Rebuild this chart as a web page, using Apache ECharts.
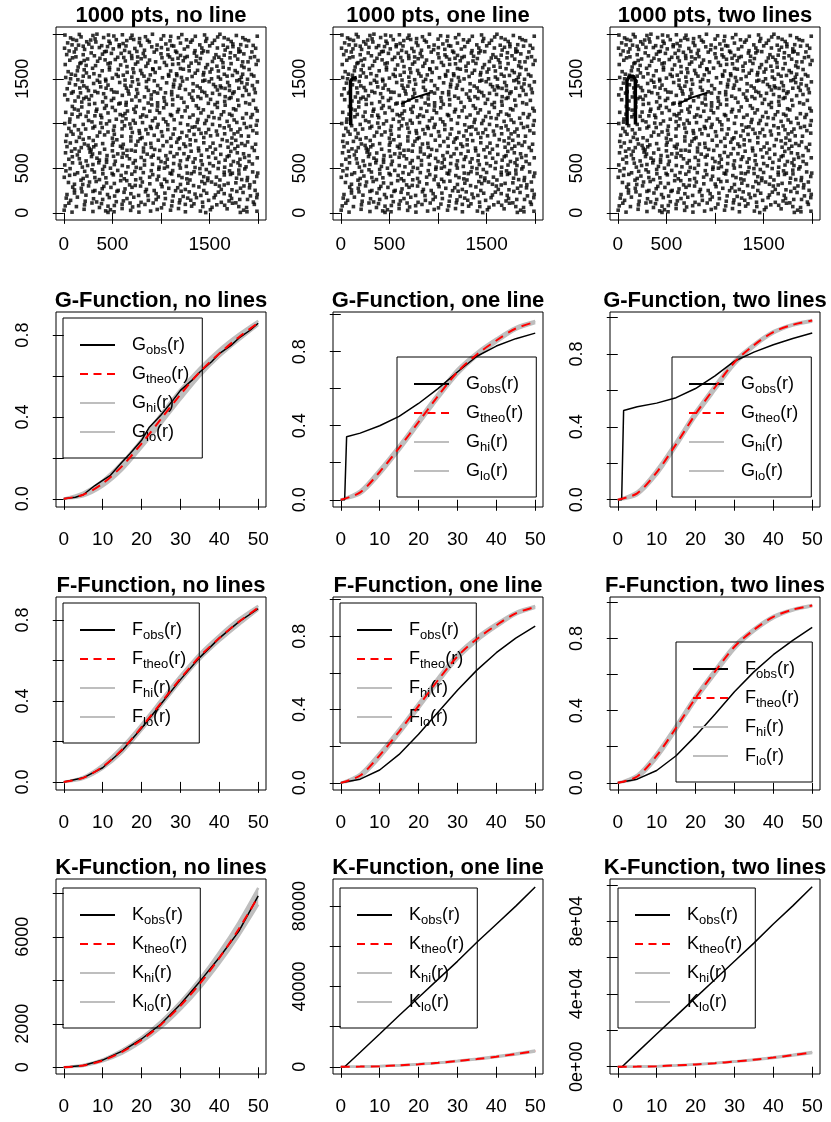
<!DOCTYPE html>
<html>
<head>
<meta charset="utf-8">
<script src="https://cdn.jsdelivr.net/npm/echarts@6/dist/echarts.min.js"></script>
<style>
html, body { margin: 0; padding: 0; background: #fff; }
#chart { width: 831px; height: 1122px; }
</style>
</head>
<body>
<div id="chart"></div>
<script>
// ---- data ----
var titles = ['1000 pts, no line', '1000 pts, one line', '1000 pts, two lines',
    'G-Function, no lines', 'G-Function, one line', 'G-Function, two lines',
    'F-Function, no lines', 'F-Function, one line', 'F-Function, two lines',
    'K-Function, no lines', 'K-Function, one line', 'K-Function, two lines'];

// background points (same in the three scatter panels), estimated band by band from the top
var basePtsA = [
    [12,1990],[70,1958],[95,1941],[160,1997],[178,1969],[300,1985],[322,1947],[341,2000],[410,1962],[515,1979],[540,1938],[603,1993],[688,1955],[702,1988],[719,1940],[840,1971],[912,1999],[1001,1944],[1027,1982],[1180,1960],[1214,1995],[1262,1937],[1353,1976],[1448,1991],[1470,1951],[1583,1968],[1606,1999],[1690,1942],[1775,1985],[1841,1960],[1866,1938],[1990,1977],
    [40,1902],[131,1930],[152,1877],[236,1915],[258,1889],[277,1934],[390,1871],[465,1921],[477,1897],[571,1881],[648,1928],[777,1905],[793,1873],[861,1932],[880,1913],[1050,1890],[1093,1925],[1110,1872],[1305,1910],[1322,1934],[1399,1880],[1528,1899],[1551,1931],[1640,1876],[1722,1918],[1739,1890],[1901,1927],[1948,1874],
    [8,1843],[55,1812],[200,1865],[214,1829],[366,1850],[437,1808],[450,1861],[509,1835],[626,1818],[640,1868],[731,1840],[752,1806],[905,1858],[955,1826],[1004,1849],[1131,1867],[1150,1810],[1240,1833],[1275,1860],[1420,1845],[1437,1812],[1501,1869],[1660,1822],[1684,1853],[1800,1835],[1815,1807],[1880,1866],[1974,1842],
    [30,1771],[108,1800],[125,1746],[282,1790],[315,1758],[398,1776],[420,1803],[555,1741],[590,1785],[675,1797],[698,1760],[818,1783],[835,1748],[930,1799],[1072,1768],[1088,1745],[1162,1795],[1201,1762],[1343,1788],[1366,1752],[1481,1804],[1565,1770],[1595,1742],[1714,1792],[1761,1758],[1852,1779],[1935,1801],[1962,1748],
    [62,1708],[90,1735],[178,1681],[245,1722],[348,1697],[372,1730],[478,1678],[530,1716],[617,1739],[633,1700],[760,1688],[796,1725],[882,1710],[1010,1736],[1035,1683],[1118,1719],[1229,1702],[1246,1738],[1310,1676],[1405,1727],[1529,1694],[1548,1733],[1622,1712],[1637,1680],[1789,1720],[1895,1690],[1920,1737],[1998,1705],
    [15,1660],[148,1632],[166,1671],[296,1618],[327,1648],[455,1669],[470,1629],[585,1655],[712,1612],[738,1665],[845,1640],[864,1674],[985,1620],[1056,1651],[1180,1668],[1200,1615],[1287,1640],[1390,1672],[1460,1625],[1478,1659],[1575,1641],[1700,1613],[1721,1670],[1830,1645],[1854,1627],[1979,1661],
    [45,1580],[78,1552],[210,1601],[233,1566],[395,1590],[540,1549],[560,1606],[652,1573],[790,1594],[803,1558],[918,1604],[940,1571],[1077,1547],[1099,1588],[1230,1608],[1352,1563],[1376,1595],[1505,1576],[1522,1609],[1651,1551],[1763,1592],[1785,1570],[1906,1604],[1930,1548],
    [20,1515],[120,1540],[145,1490],[262,1521],[345,1483],[368,1535],[500,1508],[612,1541],[630,1486],[700,1519],[825,1530],[873,1494],[890,1544],[1015,1512],[1140,1486],[1163,1537],[1268,1499],[1320,1526],[1435,1543],[1451,1484],[1590,1520],[1612,1497],[1735,1538],[1808,1489],[1826,1517],[1955,1531],
    [58,1452],[190,1470],[206,1421],[307,1448],[432,1476],[455,1430],[575,1459],[690,1418],[706,1467],[770,1440],[931,1478],[966,1425],[1058,1455],[1200,1430],[1222,1474],[1330,1445],[1372,1419],[1495,1468],[1540,1437],[1686,1460],[1703,1422],[1780,1479],[1885,1443],[1991,1466],
    [35,1389],[97,1356],[238,1402],[254,1368],[380,1410],[490,1378],[515,1352],[645,1395],[662,1363],[850,1405],[870,1371],[995,1388],[1110,1357],[1128,1410],[1251,1380],[1403,1398],[1420,1360],[1561,1412],[1580,1375],[1659,1393],[1752,1354],[1860,1405],[1877,1370],[1960,1386],
    [10,1320],[150,1297],[172,1343],[285,1311],[410,1333],[430,1290],[548,1349],[602,1315],[742,1300],[760,1338],[900,1320],[1030,1289],[1046,1344],[1172,1305],[1293,1330],[1316,1292],[1450,1347],[1470,1310],[1602,1325],[1720,1290],[1738,1336],[1840,1312],[1970,1345],
    [40,1266],[185,1240],[205,1279],[318,1224],[490,1258],[513,1281],[642,1236],[700,1262],[868,1229],[899,1275],[1036,1250],[1210,1284],[1236,1237],[1330,1261],[1487,1226],[1510,1270],[1655,1247],[1702,1280],[1871,1233],[1950,1259],
    [88,1191],[110,1162],[262,1214],[420,1170],[437,1200],[566,1219],[720,1161],[745,1190],[905,1208],[1028,1176],[1055,1215],[1180,1158],[1363,1199],[1385,1170],[1555,1212],[1580,1180],[1746,1165],[1800,1201],[1911,1218],
    [20,1125],[148,1150],[170,1102],[333,1137],[380,1093],[530,1146],[630,1111],[655,1140],[812,1096],[960,1149],[985,1120],[1097,1100],[1248,1142],[1411,1118],[1436,1153],[1620,1098],[1645,1131],[1770,1152],[1878,1110],[1990,1140],
    [63,1050],[230,1080],[255,1034],[390,1066],[470,1028],[608,1087],[640,1052],[790,1072],[912,1031],[940,1060],[1110,1088],[1135,1042],[1295,1069],[1466,1034],[1490,1078],[1600,1055],[1730,1090],[1752,1040],[1925,1068],
    [10,1000],[112,976],[290,1018],[318,968],[440,996],[600,1021],[625,975],[735,1004],[890,966],[1050,1019],[1070,985],[1200,1002],[1350,963],[1372,1012],[1530,990],[1680,1024],[1700,972],[1856,1000],[1980,981],
    [52,945],[75,910],[225,938],[370,902],[395,955],[512,925],[690,948],[705,900],[845,931],[960,957],[1005,908],[1140,940],[1290,918],[1320,958],[1462,896],[1490,934],[1650,952],[1790,905],[1812,938],[1945,920],
    [30,868],[160,845],[177,889],[345,860],[500,836],[520,880],[598,858],[780,890],[805,842],[930,868],[1100,835],[1125,881],[1265,860],[1412,890],[1440,843],[1580,872],[1730,838],[1752,884],[1900,858],[1985,892],
    [20,800],[67,782],[200,823],[212,771],[303,810],[508,790],[546,818],[612,767],[762,801],[786,829],[895,778],[972,813],[1162,790],[1177,826],[1235,771],[1357,808],[1440,784],[1630,820],[1725,775],[1769,812],[1891,794],[1973,768],
    [33,741],[115,716],[250,755],[262,721],[281,704],[308,739],[330,760],[420,712],[583,745],[602,726],[695,702],[743,758],[900,733],[935,710],[1021,752],[1190,719],[1253,743],[1300,761],[1472,706],[1505,737],[1610,752],[1760,718],[1790,746],[1938,731],
    [18,672],[140,648],[158,690],[270,680],[296,659],[445,641],[500,694],[611,665],[650,638],[820,683],[858,657],[987,699],[1050,640],[1096,676],[1236,662],[1388,694],[1415,645],[1533,671],[1700,640],[1718,688],[1849,661],[1960,698],
    [52,600],[88,628],[230,581],[341,612],[366,590],[512,633],[530,578],[676,605],[796,620],[830,586],[975,610],[1000,574],[1133,631],[1270,598],[1285,627],[1412,583],[1562,611],[1660,590],[1681,629],[1812,600],[1906,575],[1990,616],
    [10,536],[170,556],[191,512],[300,541],[418,520],[440,566],[602,530],[715,557],[745,509],[912,543],[1043,560],[1066,517],[1190,536],[1331,566],[1350,508],[1501,552],[1538,526],[1655,511],[1792,560],[1812,530],[1940,547],
    [22,470],[65,495],[142,448],[290,482],[315,457],[480,500],[497,441],[555,475],[731,463],[790,498],[818,450],[977,488],[1094,444],[1120,473],[1199,501],[1340,460],[1466,485],[1500,452],[1588,496],[1705,470],[1734,444],[1862,491],[1943,458],
    [5,398],[113,431],[200,385],[238,412],[402,437],[433,392],[590,419],[622,381],[700,433],[883,400],[915,428],[1037,376],[1183,417],[1216,395],[1312,439],[1402,440],[1440,405],[1482,390],[1651,424],[1777,388],[1802,436],[1985,407],
    [48,340],[177,366],[195,318],[333,351],[367,372],[520,329],[648,360],[677,313],[808,345],[960,371],[1002,322],[1123,355],[1276,332],[1298,368],[1420,350],[1450,328],[1480,362],[1520,345],[1560,320],[1606,368],[1770,336],[1886,362],[1914,315],
    [92,288],[110,256],[255,302],[395,270],[412,296],[560,251],[702,286],[735,307],[850,262],[1011,293],[1150,248],[1172,281],[1335,305],[1440,250],[1600,300],[1620,262],[1650,312],[1818,276],[1853,301],[1968,252],
    [33,205],[187,235],[228,198],[372,222],[523,188],[547,240],[690,214],[840,236],[866,193],[1040,221],[1207,242],[1228,184],[1350,210],[1470,220],[1560,200],[1590,232],[1712,196],[1844,228],[1990,207],
    [70,140],[140,176],[306,158],[338,122],[468,171],[613,134],[650,160],[795,118],[950,149],[972,178],[1116,130],[1274,165],[1306,141],[1427,119],[1546,170],[1700,133],[1726,161],[1890,150],[1950,121],
    [15,78],[52,108],[213,90],[367,60],[388,103],[520,82],[682,110],[708,66],[835,94],[1005,56],[1030,98],[1189,112],[1315,75],[1339,101],[1525,62],[1574,90],[1735,108],[1800,70],[1960,95],
    [4,30],[85,8],[209,40],[300,15],[431,22],[455,5],[480,35],[517,12],[600,48],[688,28],[773,8],[893,20],[961,38],[1098,30],[1180,48],[1251,12],[1405,20],[1460,3],[1508,35],[1680,45],[1816,5],[1850,30],[1884,12],[1987,18]
];
// second pass: points sitting in the gaps of the first pass
var basePtsB = [
    [460,1990],[780,1950],[1100,1975],[1650,1960],
    [85,1880],[330,1912],[610,1895],[960,1878],[1200,1900],[1460,1920],[1820,1882],
    [125,1835],[290,1852],[570,1860],[830,1820],[1070,1830],[1350,1815],[1580,1845],[1740,1860],
    [200,1770],[490,1785],[760,1745],[1000,1780],[1270,1750],[1420,1790],[1650,1765],[1800,1800],
    [210,1705],[425,1712],[700,1728],[945,1690],[1175,1730],[1360,1700],[1710,1735],[1840,1690],
    [230,1650],[650,1637],[1120,1662],[1640,1630],[915,1612],
    [140,1590],[310,1557],[470,1600],[720,1570],[1160,1556],[1290,1590],[1440,1570],[1590,1588],[1840,1552],
    [70,1500],[200,1530],[430,1495],[560,1528],[760,1490],[1080,1530],[1210,1515],[1520,1500],[1680,1530],[1890,1495],
    [120,1433],[370,1462],[630,1428],[850,1470],[1130,1440],[1430,1475],[1610,1420],[1830,1458],[1940,1425],
    [165,1398],[320,1360],[435,1395],[750,1380],[930,1355],[1190,1395],[1330,1365],[1620,1400],[1705,1370],[1800,1395],
    [80,1340],[230,1295],[350,1345],[670,1330],[830,1298],[965,1340],[1110,1322],[1380,1300],[1530,1338],[1660,1300],[1905,1325],
    [115,1252],[260,1270],[400,1242],[580,1228],[780,1255],[965,1232],[1120,1268],[1410,1280],[1580,1235],[1790,1262],
    [185,1185],[340,1160],[500,1180],[640,1205],[825,1168],[965,1195],[1120,1208],[1270,1185],[1660,1205],[1975,1170],
    [85,1104],[250,1128],[455,1118],[580,1100],[735,1125],[885,1138],[1170,1130],[1330,1095],[1525,1125],[1705,1105],[1940,1100],
    [145,1075],[320,1086],[540,1048],[715,1035],[850,1080],[1025,1050],[1215,1075],[1380,1045],[1545,1065],[1840,1060],[1990,1032],
    [60,1015],[200,990],[380,1005],[520,970],[680,995],[810,1010],[970,990],[1275,985],[1450,1000],[1605,975],[1780,1012],[1920,968],
    [150,930],[300,950],[455,905],[600,940],[775,920],[900,945],[1070,932],[1215,900],[1390,935],[1570,915],[1720,930],[1880,955],
    [95,880],[260,840],[420,872],[690,850],[865,885],[1015,860],[1195,840],[1340,878],[1510,862],[1655,885],[1825,862],
    [130,800],[400,775],[690,805],[840,770],[1060,798],[1300,818],[1535,780],[1680,805],[1830,775],
    [180,730],[500,758],[650,700],[820,725],[1105,745],[1385,725],[1560,712],[1690,735],[1865,755],
    [80,690],[370,670],[555,660],[735,690],[920,645],[1165,660],[1310,690],[1615,655],[1785,672],[1905,640],
    [160,605],[285,630],[440,598],[600,622],[735,585],[900,625],[1065,600],[1200,582],[1350,605],[1490,625],[1745,575],[1860,620],
    [90,560],[245,530],[360,560],[520,540],[660,515],[830,535],[980,512],[1130,552],[1260,520],[1425,540],[1595,565],[1720,535],[1875,515],
    [215,465],[400,485],[640,450],[900,472],[1035,500],[1270,445],[1400,495],[1650,455],[1800,478],[1995,445],
    [60,420],[320,395],[510,425],[790,385],[975,410],[1110,435],[1265,380],[1570,400],[1715,430],[1890,395],
    [110,320],[265,345],[440,335],[585,360],[740,370],[885,325],[1060,350],[1200,318],[1690,330],[1830,372],[1960,345],
    [180,275],[320,250],[485,285],[630,268],[790,300],[930,250],[1080,275],[1250,262],[1390,290],[1730,258],[1910,280],
    [110,222],[300,240],[450,205],[620,230],[770,195],[950,215],[1125,190],[1290,235],[1410,195],[1650,215],[1780,240],[1920,190],
    [25,165],[220,130],[400,150],[540,125],[720,175],[870,140],[1045,160],[1195,145],[1365,170],[1490,140],[1620,118],[1810,150],[1985,170],
    [130,70],[290,110],[455,75],[600,95],[770,80],[920,110],[1110,78],[1250,95],[1430,70],[1655,85],[1770,112],[1880,60]
];
// extra linear features
var oneLine = [[103, 980], [100, 1250], [100, 1470], [120, 1505], [165, 1515]];
var twoLines = [[96, 980], [94, 1480], [120, 1530], [160, 1530], [180, 1490], [182, 990]];
var diagLine = [[620, 1220], [760, 1290], [920, 1345]];

var rSteps = [0, 5, 10, 15, 20, 25, 30, 35, 40, 45, 50];

// G-function
var gObs1R = [0, 3, 5, 8, 10, 12, 15, 17, 20, 22, 25, 28, 30, 33, 35, 38, 40, 43, 45, 48, 50];
var gObs1 = [0, 0.008, 0.02, 0.065, 0.09, 0.115, 0.18, 0.22, 0.286, 0.35, 0.41, 0.48, 0.53, 0.58, 0.62, 0.67, 0.71, 0.75, 0.785, 0.825, 0.858];
var gTheo1 = [0, 0.02, 0.075, 0.16, 0.27, 0.39, 0.51, 0.62, 0.71, 0.79, 0.86];
var gHi1 = [0, 0.03, 0.09, 0.18, 0.29, 0.415, 0.535, 0.64, 0.73, 0.805, 0.87];
var gLo1 = [0, 0.012, 0.06, 0.14, 0.25, 0.365, 0.485, 0.6, 0.695, 0.775, 0.85];

var gObs2R = [0, 1, 1.5, 5, 10, 15, 20, 25, 30, 35, 40, 45, 50];
var gObs2 = [0, 0, 0.34, 0.36, 0.4, 0.45, 0.52, 0.6, 0.69, 0.775, 0.83, 0.87, 0.9];
var gTheo2 = [0, 0.04, 0.15, 0.28, 0.42, 0.56, 0.69, 0.785, 0.86, 0.925, 0.96];
var gHi2 = [0, 0.05, 0.165, 0.295, 0.435, 0.575, 0.705, 0.797, 0.87, 0.932, 0.965];
var gLo2 = [0, 0.03, 0.135, 0.265, 0.405, 0.545, 0.675, 0.773, 0.85, 0.918, 0.955];

var gObs3R = [0, 1, 1.5, 5, 10, 15, 20, 25, 30, 35, 40, 45, 50];
var gObs3 = [0, 0, 0.49, 0.51, 0.53, 0.56, 0.61, 0.68, 0.76, 0.81, 0.85, 0.885, 0.915];
var gTheo3 = [0, 0.035, 0.15, 0.305, 0.47, 0.617, 0.754, 0.848, 0.92, 0.96, 0.983];
var gHi3 = [0, 0.045, 0.165, 0.32, 0.485, 0.63, 0.765, 0.855, 0.925, 0.963, 0.986];
var gLo3 = [0, 0.025, 0.135, 0.29, 0.455, 0.6, 0.74, 0.838, 0.912, 0.955, 0.978];

// F-function
var fObs1 = [0, 0.02, 0.07, 0.155, 0.265, 0.385, 0.505, 0.615, 0.71, 0.79, 0.855];
var fTheo1 = [0, 0.02, 0.075, 0.16, 0.27, 0.39, 0.51, 0.62, 0.71, 0.79, 0.86];
var fHi1 = [0, 0.025, 0.085, 0.175, 0.285, 0.405, 0.525, 0.635, 0.725, 0.805, 0.87];
var fLo1 = [0, 0.015, 0.065, 0.145, 0.255, 0.375, 0.495, 0.605, 0.695, 0.775, 0.85];

var fObs2 = [0, 0.02, 0.07, 0.155, 0.265, 0.385, 0.505, 0.615, 0.71, 0.79, 0.855];
var fTheo2 = [0, 0.04, 0.15, 0.28, 0.42, 0.56, 0.69, 0.785, 0.86, 0.925, 0.96];
var fHi2 = [0, 0.05, 0.165, 0.295, 0.435, 0.575, 0.705, 0.797, 0.87, 0.932, 0.965];
var fLo2 = [0, 0.03, 0.135, 0.265, 0.405, 0.545, 0.675, 0.773, 0.85, 0.918, 0.955];

var fObs3 = [0, 0.02, 0.068, 0.15, 0.26, 0.38, 0.505, 0.615, 0.71, 0.79, 0.862];
var fTheo3 = [0, 0.035, 0.15, 0.305, 0.47, 0.617, 0.754, 0.848, 0.92, 0.96, 0.983];
var fHi3 = [0, 0.045, 0.165, 0.32, 0.485, 0.63, 0.765, 0.855, 0.925, 0.963, 0.986];
var fLo3 = [0, 0.025, 0.135, 0.29, 0.455, 0.6, 0.74, 0.838, 0.912, 0.955, 0.978];

// K-function
var kObs1 = [0, 80, 330, 740, 1300, 1990, 2900, 3950, 5050, 6250, 7880];
var kTheo1 = [0, 80, 310, 710, 1260, 1960, 2830, 3850, 5030, 6360, 7850];
var kHi1 = [0, 100, 360, 800, 1380, 2120, 3020, 4080, 5300, 6680, 8250];
var kLo1 = [0, 60, 270, 630, 1150, 1810, 2650, 3630, 4770, 6050, 7480];

var kObs2R = [0, 1, 5, 10, 15, 20, 25, 30, 35, 40, 45, 50];
var kObs2 = [0, 0, 7200, 16300, 25500, 34500, 43500, 52500, 62000, 71000, 80000, 89500];
var kTheo2 = [0, 80, 310, 710, 1260, 1960, 2830, 3850, 5030, 6360, 7850];
var kHi2 = [0, 85, 330, 750, 1320, 2050, 2950, 4000, 5230, 6600, 8150];
var kLo2 = [0, 75, 290, 670, 1200, 1870, 2710, 3700, 4830, 6120, 7550];

var kObs3R = [0, 1.1, 5, 10, 15, 20, 25, 30, 35, 40, 45, 50];
var kObs3 = [0, 0, 7900, 18000, 28000, 38000, 48000, 58000, 68000, 78500, 88500, 99000];
var kTheo3 = [0, 80, 310, 710, 1260, 1960, 2830, 3850, 5030, 6360, 7850];
var kHi3 = [0, 85, 330, 750, 1320, 2050, 2950, 4000, 5230, 6600, 8150];
var kLo3 = [0, 75, 290, 670, 1200, 1870, 2710, 3700, 4830, 6120, 7550];

// tick values
var ptTicks = [0, 500, 1000, 1500, 2000];
var ptLabels = [0, 500, 1500];
var rTicks = [0, 10, 20, 30, 40, 50];
var probTicks = [0, 0.2, 0.4, 0.6, 0.8];
var probTicks1 = [0, 0.2, 0.4, 0.6, 0.8, 1];
var probLabels = [0, 0.4, 0.8];
var k1Ticks = [0, 2000, 4000, 6000, 8000];
var k1Labels = [0, 2000, 6000];
var k2Ticks = [0, 20000, 40000, 60000, 80000];
var k2Labels = [0, 40000, 80000];
var k3Ticks = [0, 20000, 40000, 60000, 80000, 100000];
var k3Labels = [0, 40000, 80000];

// ---- layout / style ----
var FONT = '"Liberation Sans", Arial, Helvetica, sans-serif';
var GRAY = '#BEBEBE';
var RED = '#FF0000';
var colLeft = [56, 333, 610];
var boxW = 210;
var rowTop = [27, 312, 597, 879];
var rowH = [193, 195, 193, 195];

function pairs(xs, ys) {
    return xs.map(function (x, i) { return [x, ys[i]]; });
}
function fmt1(v) { return v.toFixed(1); }
function fmtInt(v) { return String(v); }
function fmtExp(v) { return v.toExponential(0).replace(/e\+(\d)$/, 'e+0$1'); }

// per panel axis settings
var panels = [
    { x: [-80, 2080], y: [-80, 2080], xt: ptTicks, xl: ptLabels, yt: ptTicks, yl: ptLabels, yf: fmtInt, xm: 15 },
    { x: [-80, 2080], y: [-80, 2080], xt: ptTicks, xl: ptLabels, yt: ptTicks, yl: ptLabels, yf: fmtInt, xm: 15 },
    { x: [-80, 2080], y: [-80, 2080], xt: ptTicks, xl: ptLabels, yt: ptTicks, yl: ptLabels, yf: fmtInt, xm: 15 },
    { x: [-2, 52], y: [-0.04, 0.913], xt: rTicks, xl: rTicks, yt: probTicks, yl: probLabels, yf: fmt1 },
    { x: [-2, 52], y: [-0.039, 1.014], xt: rTicks, xl: rTicks, yt: probTicks1, yl: probLabels, yf: fmt1 },
    { x: [-2, 52], y: [-0.04, 1.03], xt: rTicks, xl: rTicks, yt: probTicks1, yl: probLabels, yf: fmt1 },
    { x: [-2, 52], y: [-0.04, 0.913], xt: rTicks, xl: rTicks, yt: probTicks, yl: probLabels, yf: fmt1 },
    { x: [-2, 52], y: [-0.039, 1.014], xt: rTicks, xl: rTicks, yt: probTicks1, yl: probLabels, yf: fmt1 },
    { x: [-2, 52], y: [-0.04, 1.03], xt: rTicks, xl: rTicks, yt: probTicks1, yl: probLabels, yf: fmt1 },
    { x: [-2, 52], y: [-310, 8660], xt: rTicks, xl: rTicks, yt: k1Ticks, yl: k1Labels, yf: fmtInt },
    { x: [-2, 52], y: [-3600, 93500], xt: rTicks, xl: rTicks, yt: k2Ticks, yl: k2Labels, yf: fmtInt },
    { x: [-2, 52], y: [-4000, 103300], xt: rTicks, xl: rTicks, yt: k3Ticks, yl: k3Labels, yf: fmtExp }
];

var grids = [], xAxes = [], yAxes = [], series = [], graphics = [], legends = [];

panels.forEach(function (p, i) {
    var row = Math.floor(i / 3), col = i % 3;
    grids.push({
        left: colLeft[col], top: rowTop[row], width: boxW, height: rowH[row],
        show: true, borderColor: '#000', borderWidth: 1, backgroundColor: 'transparent'
    });
    xAxes.push({
        gridIndex: i, type: 'value', min: p.x[0], max: p.x[1],
        axisLine: { show: false }, splitLine: { show: false },
        axisTick: { show: true, length: 11, customValues: p.xt, lineStyle: { color: '#000', width: 1 } },
        axisLabel: { customValues: p.xl, color: '#000', fontSize: 19, fontFamily: FONT, margin: p.xm || 23, formatter: fmtInt }
    });
    yAxes.push({
        gridIndex: i, type: 'value', min: p.y[0], max: p.y[1],
        axisLine: { show: false }, splitLine: { show: false },
        axisTick: { show: true, length: 11, customValues: p.yt, lineStyle: { color: '#000', width: 1 } },
        axisLabel: { customValues: p.yl, color: '#000', fontSize: 18, fontFamily: FONT, margin: 24, rotate: 90, formatter: p.yf }
    });
    graphics.push({
        type: 'text', x: colLeft[col] + boxW / 2, y: rowTop[row] - 11, z: 10,
        style: { text: titles[i], font: 'bold 22px ' + FONT, fill: '#000', textAlign: 'center', textVerticalAlign: 'middle' }
    });
});

// scatter panels
var basePts = basePtsA.concat(basePtsB);
[0, 1, 2].forEach(function (i) {
    series.push({
        type: 'scatter', xAxisIndex: i, yAxisIndex: i, data: basePts,
        symbol: 'rect', symbolSize: 3.6, itemStyle: { color: '#000' }, silent: true
    });
});
[[1, oneLine], [1, diagLine], [2, twoLines], [2, diagLine]].forEach(function (d) {
    series.push({
        type: 'line', xAxisIndex: d[0], yAxisIndex: d[0], data: d[1], symbol: 'none',
        lineStyle: { color: '#000', width: d[1] === diagLine ? 2 : 3.5 }, silent: true
    });
});

// summary-function panels
function bandRender(rs, hi, lo) {
    return function (params, api) {
        if (params.dataIndex !== 0) return;
        var pts = [];
        for (var j = 0; j < rs.length; j++) pts.push(api.coord([rs[j], hi[j]]));
        for (var k = rs.length - 1; k >= 0; k--) pts.push(api.coord([rs[k], lo[k]]));
        return { type: 'polygon', shape: { points: pts }, style: { fill: GRAY } };
    };
}

function addFunctionPanel(i, letter, obsR, obs, theo, hi, lo) {
    series.push({
        type: 'custom', xAxisIndex: i, yAxisIndex: i, clip: true, silent: true,
        data: pairs(rSteps, lo), renderItem: bandRender(rSteps, hi, lo), z: 1
    });
    series.push({
        name: letter + '_hi', type: 'line', xAxisIndex: i, yAxisIndex: i, data: pairs(rSteps, hi),
        symbol: 'none', smooth: 0.3, lineStyle: { color: GRAY, width: 2.5 }, itemStyle: { color: GRAY }, z: 2, silent: true
    });
    series.push({
        name: letter + '_lo', type: 'line', xAxisIndex: i, yAxisIndex: i, data: pairs(rSteps, lo),
        symbol: 'none', smooth: 0.3, lineStyle: { color: GRAY, width: 2.5 }, itemStyle: { color: GRAY }, z: 2, silent: true
    });
    series.push({
        name: letter + '_obs', type: 'line', xAxisIndex: i, yAxisIndex: i, data: pairs(obsR, obs),
        symbol: 'none', lineStyle: { color: '#000', width: 1.5 }, itemStyle: { color: '#000' }, z: 3, silent: true
    });
    series.push({
        name: letter + '_theo', type: 'line', xAxisIndex: i, yAxisIndex: i, data: pairs(rSteps, theo),
        symbol: 'none', smooth: 0.3, lineStyle: { color: RED, width: 2, type: [9, 6] }, itemStyle: { color: RED }, z: 4, silent: true
    });
}

addFunctionPanel(3, 'G', gObs1R, gObs1, gTheo1, gHi1, gLo1);
addFunctionPanel(4, 'G', gObs2R, gObs2, gTheo2, gHi2, gLo2);
addFunctionPanel(5, 'G', gObs3R, gObs3, gTheo3, gHi3, gLo3);
addFunctionPanel(6, 'F', rSteps, fObs1, fTheo1, fHi1, fLo1);
addFunctionPanel(7, 'F', rSteps, fObs2, fTheo2, fHi2, fLo2);
addFunctionPanel(8, 'F', rSteps, fObs3, fTheo3, fHi3, fLo3);
addFunctionPanel(9, 'K', rSteps, kObs1, kTheo1, kHi1, kLo1);
addFunctionPanel(10, 'K', kObs2R, kObs2, kTheo2, kHi2, kLo2);
addFunctionPanel(11, 'K', kObs3R, kObs3, kTheo3, kHi3, kLo3);

// legends (box positions of the reference)
var legendPos = [
    ['G', 63, 318], ['G', 397, 357], ['G', 672, 357],
    ['F', 63, 603], ['F', 340, 603], ['F', 676, 642],
    ['K', 63, 888], ['K', 340, 888], ['K', 618, 888]
];
var DASH = 'path://M0,0H8V2H0Z M13.5,0H21.5V2H13.5Z M27,0H35V2H27Z';
legendPos.forEach(function (lp) {
    var L = lp[0];
    legends.push({
        orient: 'vertical', left: lp[1], top: lp[2], selectedMode: false,
        padding: [15.5, 13, 14.5, 17], itemGap: 6, itemWidth: 35, itemHeight: 2,
        borderColor: '#000', borderWidth: 1, borderRadius: 0,
        itemStyle: { borderWidth: 0 },
        data: [
            { name: L + '_obs', icon: 'rect' },
            { name: L + '_theo', icon: DASH },
            { name: L + '_hi', icon: 'rect' },
            { name: L + '_lo', icon: 'rect' }
        ],
        formatter: function (name) {
            var s = name.split('_');
            return '{g|}{m|' + s[0] + '}{s|' + s[1] + '}{m|(r)}';
        },
        textStyle: {
            rich: {
                g: { width: 12 },
                m: { fontSize: 18, fontFamily: FONT, color: '#000', lineHeight: 22 },
                s: { fontSize: 13, fontFamily: FONT, color: '#000', lineHeight: 13, padding: [10, 0, 0, 0] }
            }
        }
    });
});

var chart = echarts.init(document.getElementById('chart'), null, { renderer: 'canvas' });
chart.setOption({
    animation: false,
    backgroundColor: '#fff',
    grid: grids,
    xAxis: xAxes,
    yAxis: yAxes,
    legend: legends,
    series: series,
    graphic: graphics
});
</script>
</body>
</html>
